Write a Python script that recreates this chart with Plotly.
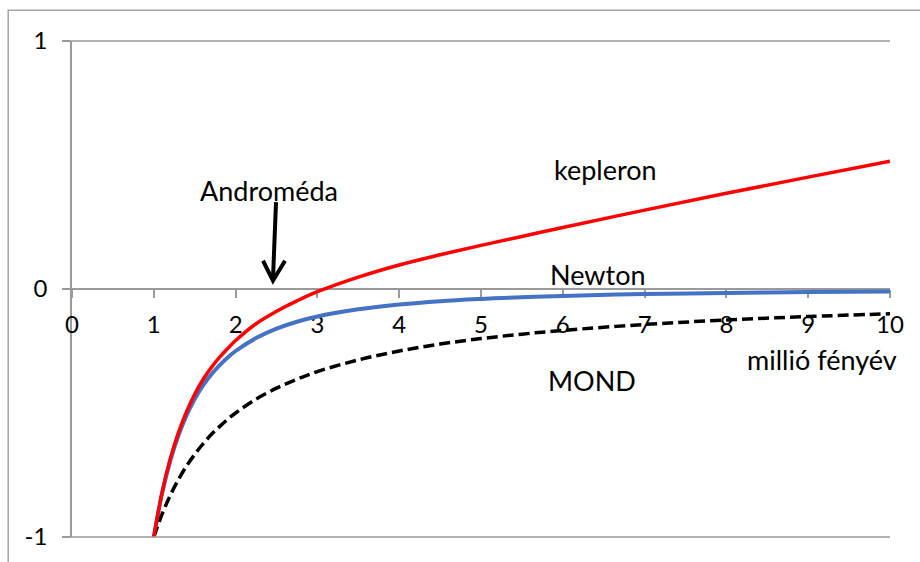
import plotly.graph_objects as go

# distance (million light years)
distance = [1, 1.1, 1.2, 1.3, 1.4, 1.5, 1.6, 1.7, 1.8, 1.9, 2, 2.25, 2.5,
            2.75, 3, 3.5, 4, 4.5, 5, 5.5, 6, 7, 8, 9, 10]

# potential curves
newton = [-1, -0.826, -0.694, -0.592, -0.51, -0.444, -0.39, -0.346, -0.309,
          -0.277, -0.25, -0.198, -0.16, -0.132, -0.111, -0.082, -0.0625,
          -0.049, -0.04, -0.033, -0.028, -0.02, -0.016, -0.012, -0.01]
kepleron = [-1, -0.822, -0.686, -0.58, -0.495, -0.425, -0.366, -0.318,
            -0.277, -0.241, -0.208, -0.14, -0.09, -0.048, -0.011, 0.048,
            0.097, 0.138, 0.176, 0.212, 0.248, 0.318, 0.386, 0.451, 0.515]
mond = [-1, -0.909, -0.833, -0.769, -0.714, -0.667, -0.625, -0.588, -0.556,
        -0.526, -0.5, -0.444, -0.4, -0.364, -0.333, -0.286, -0.25, -0.222,
        -0.2, -0.182, -0.167, -0.143, -0.125, -0.111, -0.1]

x_ticks = [0, 1, 2, 3, 4, 5, 6, 7, 8, 9, 10]
y_ticks = [-1, 0, 1]

FONT = "Lato"
GREY = "#9a9a9a"

fig = go.Figure()
fig.add_trace(go.Scatter(x=distance, y=newton, mode="lines",
                         line=dict(color="#4472C4", width=4, shape="spline"),
                         hoverinfo="skip"))
fig.add_trace(go.Scatter(x=distance, y=mond, mode="lines",
                         line=dict(color="black", width=3.5, shape="spline",
                                   dash="11px,5px"),
                         hoverinfo="skip"))
fig.add_trace(go.Scatter(x=distance, y=kepleron, mode="lines",
                         line=dict(color="#FF0000", width=3.5, shape="spline"),
                         hoverinfo="skip"))

labels = [
    ("kepleron", 6.52, 0.482),
    ("Androméda", 2.41, 0.398),
    ("Newton", 6.43, 0.058),
    ("MOND", 6.36, -0.37),
    ("millió fényév", 9.17, -0.286),
]
for text, lx, ly in labels:
    fig.add_annotation(x=lx, y=ly, text=text, showarrow=False,
                       xanchor="center", yanchor="middle",
                       font=dict(family=FONT, size=27, color="black"))

# arrow pointing at Andromeda's distance
fig.add_shape(type="line", xref="x", yref="y", x0=2.494, y0=0.35,
              x1=2.457, y1=0.04, line=dict(color="black", width=4))
fig.add_shape(type="path", xref="x", yref="y",
              path="M 2.335,0.114 L 2.457,0.034 L 2.604,0.114",
              line=dict(color="black", width=4))

# horizontal gridlines at the ends of the value range (with tick stubs)
for gy in (0, 1):
    fig.add_shape(type="line", xref="paper", yref="paper",
                  x0=-8 / 818, x1=1, y0=gy, y1=gy,
                  line=dict(color=GREY, width=1.5), layer="above")

# outer chart frame
fig.add_shape(type="rect", xref="paper", yref="paper",
              x0=-0.078, x1=1.3, y0=-0.3, y1=1.062,
              line=dict(color="#a6a6a6", width=1.5), layer="below")

fig.update_layout(
    width=920, height=562,
    margin=dict(l=72, r=30, t=41, b=21),
    plot_bgcolor="white", paper_bgcolor="white",
    showlegend=False,
    font=dict(family=FONT, size=24, color="black"),
)
fig.update_xaxes(
    range=[0, 10], tickvals=x_ticks, ticktext=[str(v) for v in x_ticks],
    anchor="free", position=0.5, showline=True, linecolor=GREY, linewidth=1.5,
    ticks="outside", ticklen=8, tickcolor=GREY, tickwidth=1.5,
    showgrid=False, zeroline=False, layer="below traces",
    ticklabelstandoff=6,
    tickfont=dict(family=FONT, size=24),
)
fig.update_yaxes(
    range=[-1, 1], tickvals=y_ticks, ticktext=[str(v) for v in y_ticks],
    showline=True, linecolor=GREY, linewidth=1.5,
    ticks="outside", ticklen=8, tickcolor=GREY, tickwidth=1.5,
    showgrid=True, gridcolor=GREY, gridwidth=1.5, zeroline=False,
    layer="below traces", ticklabelstandoff=10,
    tickfont=dict(family=FONT, size=24),
)

fig.write_html("out.html")
